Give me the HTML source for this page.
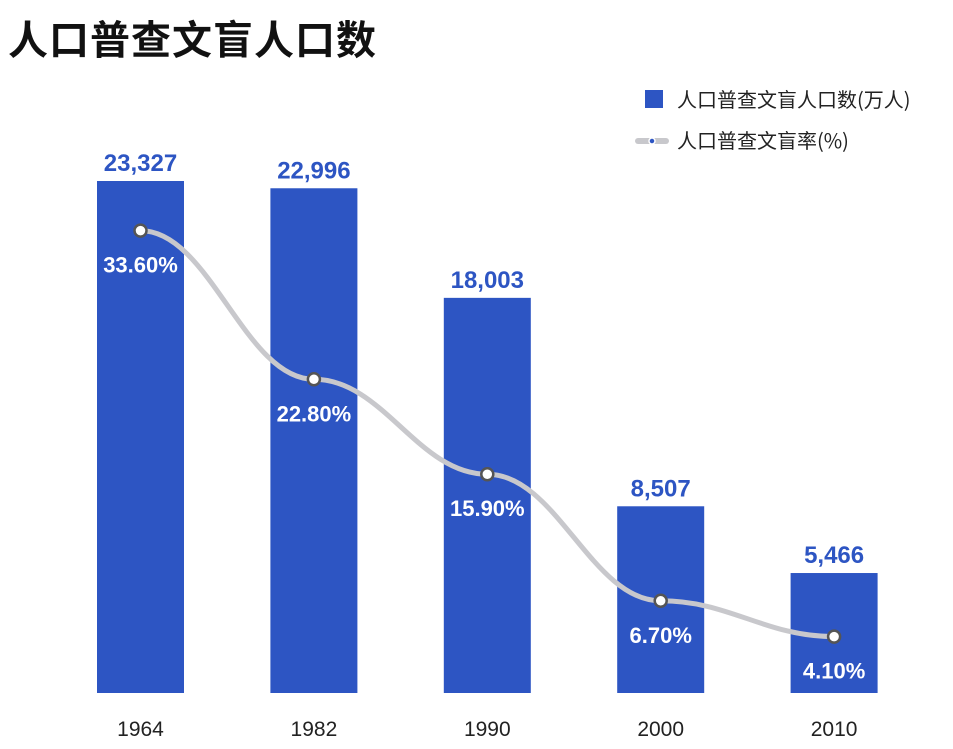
<!DOCTYPE html>
<html><head><meta charset="utf-8">
<style>
body{margin:0;width:953px;height:749px;background:#fff;overflow:hidden;font-family:"Liberation Sans","Noto Sans CJK SC",sans-serif;}
#title{position:absolute;left:8px;top:8px;font-size:40px;font-weight:bold;color:#111;font-family:"Noto Sans CJK SC",sans-serif;letter-spacing:1px;}
</style></head><body>
<div id="title">人口普查文盲人口数</div>
<svg id="chart" width="953" height="749" style="position:absolute;left:0;top:0">
 <g>
  <rect x="645" y="90" width="18" height="18" fill="#2d55c3"/>
  <text x="677" y="107" font-size="20" fill="#222" font-family="Noto Sans CJK SC, sans-serif">人口普查文盲人口数(万人)</text>
  <line x1="638" y1="141" x2="666" y2="141" stroke="#c8c8cc" stroke-width="6" stroke-linecap="round"/>
  <circle cx="652" cy="141" r="3" fill="#2d55c3" stroke="#fff" stroke-width="1.5"/>
  <text x="677" y="148" font-size="20" fill="#222" font-family="Noto Sans CJK SC, sans-serif">人口普查文盲率(%)</text>
 </g>
 <g id="bars"></g><g id="line"></g><g id="labels"></g>
</svg>
<script>
const categories=["1964","1982","1990","2000","2010"];
const counts=[23327,22996,18003,8507,5466];
const countLabels=["23,327","22,996","18,003","8,507","5,466"];
const rates=[33.6,22.8,15.9,6.7,4.1];
const rateLabels=["33.60%","22.80%","15.90%","6.70%","4.10%"];
const NS="http://www.w3.org/2000/svg";
const base=693, left0=140.5, step=173.4, bw=87;
const x=i=>left0+i*step;
const yc=v=>base-v*(512/23327);
const yr=v=>base-v*13.76;
function mk(t,a,p){const e=document.createElementNS(NS,t);for(const k in a)e.setAttribute(k,a[k]);p.appendChild(e);return e;}
const gb=document.getElementById('bars'),gl=document.getElementById('line'),gt=document.getElementById('labels');
categories.forEach((c,i)=>{
 const r=mk('rect',{x:x(i)-bw/2,y:yc(counts[i]),width:bw,height:base-yc(counts[i]),fill:'#2d55c3'},gb);
 
 
 const t=mk('text',{x:x(i),y:yc(counts[i])-10,'text-anchor':'middle','font-size':24,'font-weight':'bold',fill:'#2d55c3'},gt);
 t.textContent=countLabels[i];
 
 
 const y=mk('text',{x:x(i),y:736,'text-anchor':'middle','font-size':21,fill:'#222'},gt);
 y.textContent=c;
 
 
});
let d='';
const pts=categories.map((c,i)=>[x(i),yr(rates[i])]);
d='M'+pts[0][0]+','+pts[0][1];
for(let i=1;i<pts.length;i++){const p0=pts[i-1],p1=pts[i],dx=(p1[0]-p0[0])*0.4;d+=` C${p0[0]+dx},${p0[1]} ${p1[0]-dx},${p1[1]} ${p1[0]},${p1[1]}`;}
const path=mk('path',{d:d,fill:'none',stroke:'#c8c8cc','stroke-width':5,'stroke-linecap':'round'},gl);


pts.forEach((p,i)=>{
 const c=mk('circle',{cx:p[0],cy:p[1],r:6,fill:'#fff',stroke:'#555','stroke-width':2.5},gl);
 
 
 const t=mk('text',{x:p[0],y:p[1]+42,'text-anchor':'middle','font-size':22,'font-weight':'bold',fill:'#fff'},gt);
 t.textContent=rateLabels[i];
 
 
});
</script>
</body></html>
